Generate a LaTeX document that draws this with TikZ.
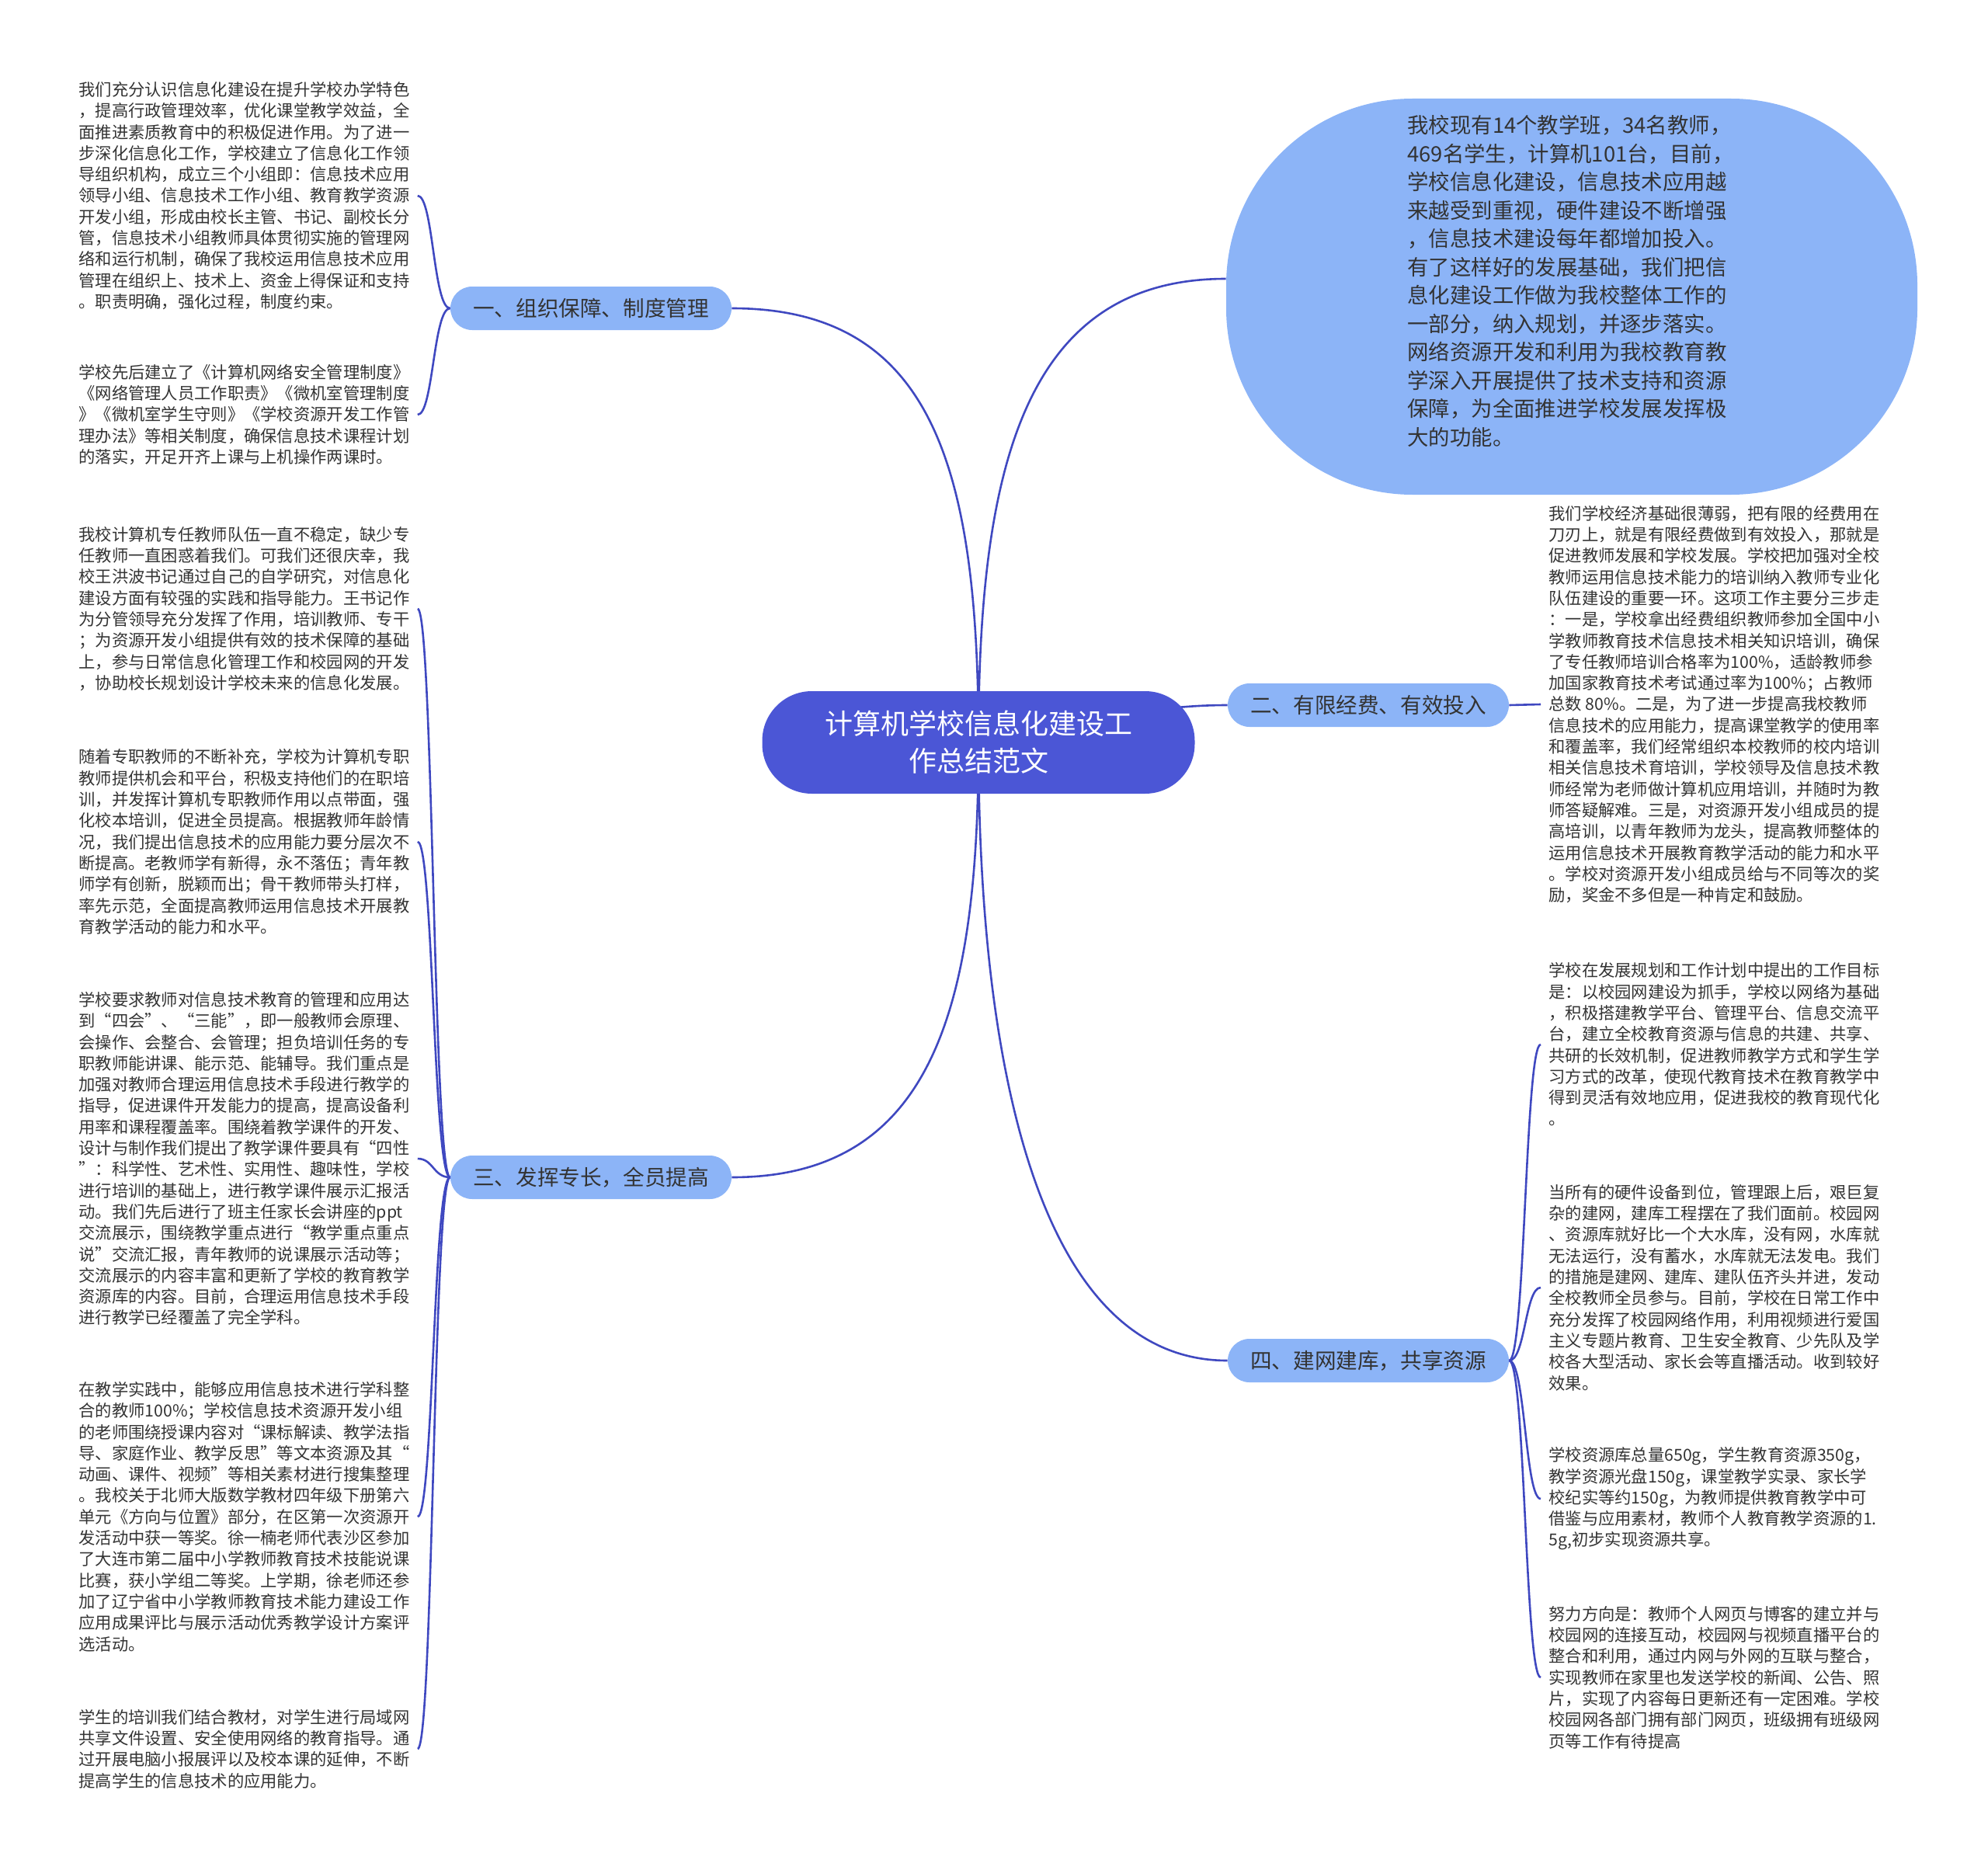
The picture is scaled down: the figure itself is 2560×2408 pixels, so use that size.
\documentclass[tikz,border=0pt]{standalone}
\usepackage{fontspec}
\setmainfont{Noto Sans CJK SC}
\usetikzlibrary{backgrounds}
\definecolor{cmain}{HTML}{4B56D6}
\definecolor{cbranch}{HTML}{8CB4F7}
\definecolor{cline}{HTML}{3F48C0}
\definecolor{ctext}{HTML}{333333}
\begin{document}
\begin{tikzpicture}[x=0.5pt,y=-0.5pt,
  centernode/.style={fill=cmain, text=white, rounded corners=32pt, minimum width=278.5pt, minimum height=66pt, align=center, font=\fontsize{18pt}{24pt}\selectfont, inner sep=0pt},
  branchnode/.style={fill=cbranch, text=ctext, rounded corners=14pt, minimum width=181pt, minimum height=28pt, font=\fontsize{13.8pt}{16pt}\selectfont, inner sep=0pt},
  bubble/.style={fill=cbranch, rounded corners=120pt, minimum width=445pt, minimum height=255pt, inner sep=0pt},
  bubbletext/.style={text=ctext, align=left, inner sep=0pt, font=\fontsize{13.7pt}{18.25pt}\selectfont},
  blurb/.style={text=ctext, align=left, inner sep=0pt, font=\fontsize{10.65pt}{13.65pt}\selectfont},
  link/.style={draw=cline, line width=1.3pt},
]
\useasboundingbox (0,0) rectangle (2560,2408);

\node[centernode] (c) at (1260,956) {计算机学校信息化建设工\\作总结范文};
\node[branchnode] (b1) at (761,397) {一、组织保障、制度管理};
\node[branchnode] (b2) at (1762,908) {二、有限经费、有效投入};
\node[branchnode] (b3) at (761,1516) {三、发挥专长，全员提高};
\node[branchnode] (b4) at (1762,1752) {四、建网建库，共享资源};
\node[bubble] (e) at (2024,382) {};
\node[bubbletext, anchor=west] (et) at (1812,362) {我校现有14个教学班，34名教师，\\469名学生，计算机101台，目前，\\学校信息化建设，信息技术应用越\\来越受到重视，硬件建设不断增强\\，信息技术建设每年都增加投入。\\有了这样好的发展基础，我们把信\\息化建设工作做为我校整体工作的\\一部分，纳入规划，并逐步落实。\\网络资源开发和利用为我校教育教\\学深入开展提供了技术支持和资源\\保障，为全面推进学校发展发挥极\\大的功能。};

\node[blurb, anchor=west] (l1) at (101,252) {我们充分认识信息化建设在提升学校办学特色\\，提高行政管理效率，优化课堂教学效益，全\\面推进素质教育中的积极促进作用。为了进一\\步深化信息化工作，学校建立了信息化工作领\\导组织机构，成立三个小组即：信息技术应用\\领导小组、信息技术工作小组、教育教学资源\\开发小组，形成由校长主管、书记、副校长分\\管，信息技术小组教师具体贯彻实施的管理网\\络和运行机制，确保了我校运用信息技术应用\\管理在组织上、技术上、资金上得保证和支持\\。职责明确，强化过程，制度约束。};
\node[blurb, anchor=west] (l2) at (101,534) {学校先后建立了《计算机网络安全管理制度》\\《网络管理人员工作职责》《微机室管理制度\\》《微机室学生守则》《学校资源开发工作管\\理办法》等相关制度，确保信息技术课程计划\\的落实，开足开齐上课与上机操作两课时。};
\node[blurb, anchor=west] (l3) at (101,784) {我校计算机专任教师队伍一直不稳定，缺少专\\任教师一直困惑着我们。可我们还很庆幸，我\\校王洪波书记通过自己的自学研究，对信息化\\建设方面有较强的实践和指导能力。王书记作\\为分管领导充分发挥了作用，培训教师、专干\\；为资源开发小组提供有效的技术保障的基础\\上，参与日常信息化管理工作和校园网的开发\\，协助校长规划设计学校未来的信息化发展。};
\node[blurb, anchor=west] (l4) at (101,1084) {随着专职教师的不断补充，学校为计算机专职\\教师提供机会和平台，积极支持他们的在职培\\训，并发挥计算机专职教师作用以点带面，强\\化校本培训，促进全员提高。根据教师年龄情\\况，我们提出信息技术的应用能力要分层次不\\断提高。老教师学有新得，永不落伍；青年教\\师学有创新，脱颖而出；骨干教师带头打样，\\率先示范，全面提高教师运用信息技术开展教\\育教学活动的能力和水平。};
\node[blurb, anchor=west] (l5) at (101,1492) {学校要求教师对信息技术教育的管理和应用达\\到“四会”、“三能”，即一般教师会原理、\\会操作、会整合、会管理；担负培训任务的专\\职教师能讲课、能示范、能辅导。我们重点是\\加强对教师合理运用信息技术手段进行教学的\\指导，促进课件开发能力的提高，提高设备利\\用率和课程覆盖率。围绕着教学课件的开发、\\设计与制作我们提出了教学课件要具有“四性\\”：科学性、艺术性、实用性、趣味性，学校\\进行培训的基础上，进行教学课件展示汇报活\\动。我们先后进行了班主任家长会讲座的ppt\\交流展示，围绕教学重点进行“教学重点重点\\说”交流汇报，青年教师的说课展示活动等；\\交流展示的内容丰富和更新了学校的教育教学\\资源库的内容。目前，合理运用信息技术手段\\进行教学已经覆盖了完全学科。};
\node[blurb, anchor=west] (l6) at (101,1953) {在教学实践中，能够应用信息技术进行学科整\\合的教师100\%；学校信息技术资源开发小组\\的老师围绕授课内容对“课标解读、教学法指\\导、家庭作业、教学反思”等文本资源及其“\\动画、课件、视频”等相关素材进行搜集整理\\。我校关于北师大版数学教材四年级下册第六\\单元《方向与位置》部分，在区第一次资源开\\发活动中获一等奖。徐一楠老师代表沙区参加\\了大连市第二届中小学教师教育技术技能说课\\比赛，获小学组二等奖。上学期，徐老师还参\\加了辽宁省中小学教师教育技术能力建设工作\\应用成果评比与展示活动优秀教学设计方案评\\选活动。};
\node[blurb, anchor=west] (l7) at (101,2252) {学生的培训我们结合教材，对学生进行局域网\\共享文件设置、安全使用网络的教育指导。通\\过开展电脑小报展评以及校本课的延伸，不断\\提高学生的信息技术的应用能力。};

\node[blurb, anchor=west] (r1) at (1994,907) {我们学校经济基础很薄弱，把有限的经费用在\\刀刃上，就是有限经费做到有效投入，那就是\\促进教师发展和学校发展。学校把加强对全校\\教师运用信息技术能力的培训纳入教师专业化\\队伍建设的重要一环。这项工作主要分三步走\\：一是，学校拿出经费组织教师参加全国中小\\学教师教育技术信息技术相关知识培训，确保\\了专任教师培训合格率为100\%，适龄教师参\\加国家教育技术考试通过率为100\%；占教师\\总数 80\%。二是，为了进一步提高我校教师\\信息技术的应用能力，提高课堂教学的使用率\\和覆盖率，我们经常组织本校教师的校内培训\\相关信息技术育培训，学校领导及信息技术教\\师经常为老师做计算机应用培训，并随时为教\\师答疑解难。三是，对资源开发小组成员的提\\高培训，以青年教师为龙头，提高教师整体的\\运用信息技术开展教育教学活动的能力和水平\\。学校对资源开发小组成员给与不同等次的奖\\励，奖金不多但是一种肯定和鼓励。};
\node[blurb, anchor=west] (r2) at (1994,1345) {学校在发展规划和工作计划中提出的工作目标\\是：以校园网建设为抓手，学校以网络为基础\\，积极搭建教学平台、管理平台、信息交流平\\台，建立全校教育资源与信息的共建、共享、\\共研的长效机制，促进教师教学方式和学生学\\习方式的改革，使现代教育技术在教育教学中\\得到灵活有效地应用，促进我校的教育现代化\\。};
\node[blurb, anchor=west] (r3) at (1994,1658) {当所有的硬件设备到位，管理跟上后，艰巨复\\杂的建网，建库工程摆在了我们面前。校园网\\、资源库就好比一个大水库，没有网，水库就\\无法运行，没有蓄水，水库就无法发电。我们\\的措施是建网、建库、建队伍齐头并进，发动\\全校教师全员参与。目前，学校在日常工作中\\充分发挥了校园网络作用，利用视频进行爱国\\主义专题片教育、卫生安全教育、少先队及学\\校各大型活动、家长会等直播活动。收到较好\\效果。};
\node[blurb, anchor=west] (r4) at (1994,1930) {学校资源库总量650g，学生教育资源350g，\\教学资源光盘150g，课堂教学实录、家长学\\校纪实等约150g，为教师提供教育教学中可\\借鉴与应用素材，教师个人教育教学资源的1.\\5g,初步实现资源共享。};
\node[blurb, anchor=west] (r5) at (1994,2160) {努力方向是：教师个人网页与博客的建立并与\\校园网的连接互动，校园网与视频直播平台的\\整合和利用，通过内网与外网的互联与整合，\\实现教师在家里也发送学校的新闻、公告、照\\片，实现了内容每日更新还有一定困难。学校\\校园网各部门拥有部门网页，班级拥有班级网\\页等工作有待提高};

\begin{scope}[on background layer]
\draw[link] (c.center) .. controls (1260,600) and (1320,359) .. ([yshift=11.5pt]e.west);
\draw[link] (c.center) .. controls (1260,600) and (1200,397) .. (b1.east);
\draw[link] (c.center) .. controls (1400,930) and (1480,908) .. (b2.west);
\draw[link] (c.center) .. controls (1260,1300) and (1200,1516) .. (b3.east);
\draw[link] (c.center) .. controls (1260,1350) and (1330,1752) .. (b4.west);
\end{scope}

\draw[link] (b1.west) .. controls (558,397) and (558,252) .. ([xshift=5pt]l1.east);
\draw[link] (b1.west) .. controls (558,397) and (558,534) .. ([xshift=5pt]l2.east);
\draw[link] (b3.west) .. controls (558,1516) and (558,784) .. ([xshift=5pt]l3.east);
\draw[link] (b3.west) .. controls (558,1516) and (558,1084) .. ([xshift=5pt]l4.east);
\draw[link] (b3.west) .. controls (558,1516) and (558,1492) .. ([xshift=5pt]l5.east);
\draw[link] (b3.west) .. controls (558,1516) and (558,1953) .. ([xshift=5pt]l6.east);
\draw[link] (b3.west) .. controls (558,1516) and (558,2252) .. ([xshift=5pt]l7.east);

\draw[link] (b2.east) .. controls (1964,908) and (1964,907) .. ([xshift=-5pt]r1.west);
\draw[link] (b4.east) .. controls (1964,1752) and (1964,1345) .. ([xshift=-5pt]r2.west);
\draw[link] (b4.east) .. controls (1964,1752) and (1964,1658) .. ([xshift=-5pt]r3.west);
\draw[link] (b4.east) .. controls (1964,1752) and (1964,1930) .. ([xshift=-5pt]r4.west);
\draw[link] (b4.east) .. controls (1964,1752) and (1964,2160) .. ([xshift=-5pt]r5.west);
\end{tikzpicture}
\end{document}
